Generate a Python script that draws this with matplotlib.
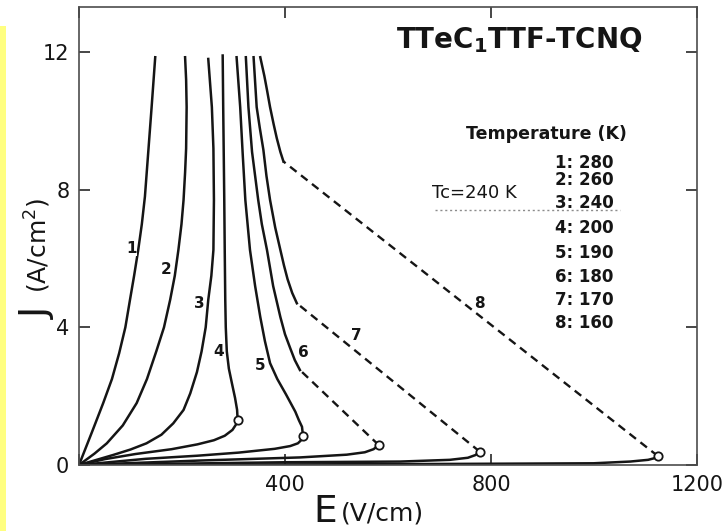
import matplotlib
matplotlib.use("Agg")
import matplotlib.pyplot as plt
from matplotlib.patches import Rectangle

# --- data (E in V/cm, J in A/cm^2) ---
# curves 1-3 : single branch from the origin up to J ~ 12
e1 = [0, 25, 47, 64, 78, 90, 99, 107, 115, 122, 128, 135, 141, 148]
j1 = [0, 0.95, 1.8, 2.5, 3.25, 4.0, 4.8, 5.5, 6.25, 7.0, 7.8, 9.2, 10.4, 11.85]
e2 = [0, 30, 54, 85, 112, 132, 150, 165, 177, 186, 193, 199, 203, 206, 208, 209, 208, 206]
j2 = [0, 0.33, 0.63, 1.15, 1.8, 2.5, 3.3, 4.0, 4.8, 5.5, 6.25, 7.0, 7.7, 8.5, 9.2, 10.4, 11.2, 11.85]
e3 = [0, 66, 100, 131, 160, 183, 203, 216, 229, 238, 246, 251, 257, 261, 262, 261, 258, 251]
j3 = [0, 0.29, 0.45, 0.63, 0.88, 1.21, 1.6, 2.08, 2.7, 3.3, 4.0, 4.8, 5.5, 6.25, 7.7, 9.2, 10.4, 11.8]

# curves 4-8 : low branch from origin to the switching point (open circle)
low4_e = [0, 50, 110, 180, 230, 262, 283, 298, 305, 308]
low4_j = [0, 0.17, 0.32, 0.46, 0.6, 0.72, 0.85, 1.02, 1.18, 1.31]
low5_e = [0, 130, 230, 310, 380, 410, 425, 432, 435]
low5_j = [0, 0.18, 0.27, 0.36, 0.47, 0.55, 0.63, 0.73, 0.84]
low6_e = [0, 235, 429, 520, 555, 572, 582]
low6_j = [0, 0.13, 0.22, 0.3, 0.37, 0.46, 0.58]
low7_e = [0, 400, 624, 720, 755, 770, 778]
low7_j = [0, 0.08, 0.1, 0.15, 0.21, 0.29, 0.39]
low8_e = [0, 700, 999, 1070, 1105, 1118, 1124]
low8_j = [0, 0.03, 0.05, 0.1, 0.15, 0.2, 0.26]

# upper (solid) branch, from switching point / kink up to J ~ 12
up4_e = [308, 307, 303, 297, 291, 287, 285, 284, 283, 282, 280, 279]
up4_j = [1.31, 1.6, 1.95, 2.37, 2.8, 3.3, 4.0, 4.8, 6.2, 7.8, 10.4, 11.9]
up5_e = [435, 433, 427, 420, 411, 402, 385, 371, 361, 352, 342, 332, 323, 318, 313, 306]
up5_j = [0.84, 1.11, 1.3, 1.55, 1.8, 2.05, 2.5, 2.96, 3.6, 4.3, 5.2, 6.25, 7.7, 9.0, 10.4, 11.85]
up6_e = [429, 419, 410, 400, 391, 377, 365, 355, 348, 336, 329, 324]
up6_j = [2.76, 3.05, 3.4, 3.8, 4.3, 5.2, 6.25, 7.0, 7.7, 9.1, 10.4, 11.85]
up7_e = [423, 414, 405, 398, 391, 381, 371, 364, 358, 351, 345, 339]
up7_j = [4.7, 5.0, 5.4, 5.8, 6.25, 6.9, 7.7, 8.4, 9.16, 9.8, 10.4, 11.85]
up8_e = [397, 391, 384, 378, 371, 365, 360, 352]
up8_j = [8.82, 9.1, 9.5, 9.9, 10.4, 10.9, 11.3, 11.85]

# dashed jumps (switching point -> kink)
dash6_e = [582, 429]
dash6_j = [0.58, 2.76]
dash7_e = [778, 423]
dash7_j = [0.39, 4.7]
dash8_e = [1124, 397]
dash8_j = [0.26, 8.82]

# curve number labels
label_num = ["1", "2", "3", "4", "5", "6", "7", "8"]
label_e = [102, 169, 234, 271, 352, 436, 538, 777]
label_j = [6.3, 5.69, 4.68, 3.3, 2.9, 3.27, 3.75, 4.7]

temps = [280, 260, 240, 200, 190, 180, 170, 160]
temp_j = [8.78, 8.28, 7.62, 6.89, 6.16, 5.47, 4.80, 4.13]

W, H = 726, 531
fig = plt.figure(figsize=(W / 100, H / 100), dpi=100)
ax = fig.add_axes([79 / W, 1 - 465 / H, (697 - 79) / W, (465 - 7) / H])

# yellow strip on the left edge of the scan
fig.patches.append(Rectangle((0, 0), 6 / W, 1 - 26 / H, transform=fig.transFigure,
                             facecolor="#ffff80", edgecolor="none"))

ink = "#151515"
lw = 1.8
dash = (0, (3.5, 2.4))

for e, j in [(e1, j1), (e2, j2), (e3, j3)]:
    ax.plot(e, j, color=ink, lw=lw, solid_joinstyle="round")

lows = [(low4_e, low4_j), (low5_e, low5_j), (low6_e, low6_j),
        (low7_e, low7_j), (low8_e, low8_j)]
ups = [(up4_e, up4_j), (up5_e, up5_j), (up6_e, up6_j),
       (up7_e, up7_j), (up8_e, up8_j)]
for (le, lj), (ue, uj) in zip(lows, ups):
    ax.plot(le, lj, color=ink, lw=lw, solid_joinstyle="round")
    ax.plot(ue, uj, color=ink, lw=lw, solid_joinstyle="round")

for e, j in [(dash6_e, dash6_j), (dash7_e, dash7_j), (dash8_e, dash8_j)]:
    ax.plot(e, j, color=ink, lw=1.7, linestyle=dash)

# open circles at switching points
for le, lj in lows:
    ax.plot(le[-1], lj[-1], "o", ms=6, mfc="white", mec=ink, mew=1.3, zorder=5)

for s, x, y in zip(label_num, label_e, label_j):
    ax.text(x, y, s, fontsize=11, fontweight="bold", ha="center", va="center",
            color=ink, bbox=dict(fc="white", ec="none", pad=0.3))

# annotations
ax.text(855, 12.35, r"TTeC$_{\mathbf{1}}$TTF-TCNQ", fontsize=20, fontweight="bold",
        ha="center", va="center", color=ink)
ax.text(907, 9.62, "Temperature (K)", fontsize=12.5, fontweight="bold",
        ha="center", va="center", color=ink)
for i, (t, y) in enumerate(zip(temps, temp_j)):
    ax.text(924, y, f"{i + 1}: {t}", fontsize=12, fontweight="bold",
            ha="left", va="center", color=ink)
ax.text(767, 7.9, "Tc=240 K", fontsize=13, ha="center", va="center", color=ink)
ax.plot([691, 1050], [7.41, 7.41], color="0.55", lw=1, linestyle=(0, (1.5, 2)))

ax.set_xlim(0, 1200)
ax.set_ylim(0, 13.31)
ax.set_xticks([0, 400, 800, 1200])
ax.set_xticklabels(["", "400", "800", "1200"])
ax.set_yticks([0, 4, 8, 12])
ax.set_yticklabels(["0", "4", "8", "12"])
ax.tick_params(direction="in", length=8, width=1.1, top=True, right=True,
               labelsize=15, pad=7, colors=ink)
for sp in ax.spines.values():
    sp.set_color("0.3")
    sp.set_linewidth(1.2)

# axis titles drawn as separate pieces (big letter + smaller unit)
fig.text(313 / W, 1 - 512 / H, "E", fontsize=27, ha="left", va="center", color=ink)
fig.text(341 / W, 1 - 514 / H, "(V/cm)", fontsize=18, ha="left", va="center", color=ink)
fig.text(38 / W, 1 - 313 / H, "J", fontsize=27, rotation=90, ha="center",
         va="center", color=ink)
fig.text(38 / W, 1 - 245 / H, "(A/cm$^2$)", fontsize=18, rotation=90, ha="center",
         va="center", color=ink)

fig.savefig("out.png", dpi=100)
